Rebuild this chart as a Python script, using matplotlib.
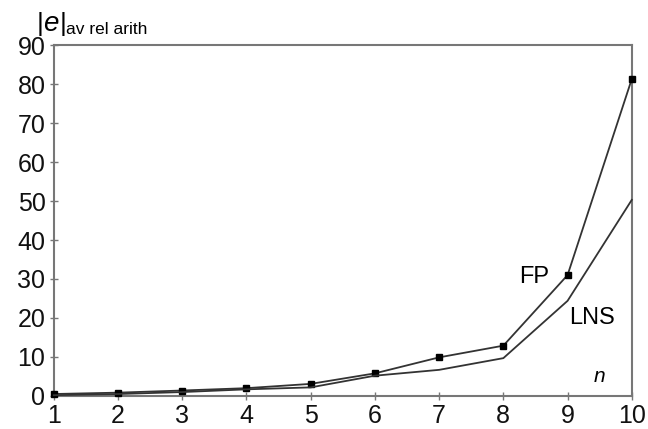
import matplotlib

matplotlib.use("Agg")
import matplotlib.pyplot as plt

# ── Data ──────────────────────────────────────────────────────────────────────
n = [1, 2, 3, 4, 5, 6, 7, 8, 9, 10]
fp = [0.5, 0.85, 1.4, 2.0, 3.1, 5.8, 9.9, 12.9, 31.0, 81.3]
lns = [0.2, 0.5, 1.0, 1.7, 2.2, 5.2, 6.7, 9.7, 24.4, 50.3]
yticks = [0, 10, 20, 30, 40, 50, 60, 70, 80, 90]

FONT = "Liberation Sans"
SPINE = "#777777"
LINE = "#333333"

fig = plt.figure(figsize=(6.48, 4.29), dpi=100, facecolor="white")
ax = fig.add_axes([0.083, 0.077, 0.892, 0.818])

ax.plot(n, fp, color=LINE, lw=1.3, marker="s", ms=5, mfc="black", mec="black",
        clip_on=False, zorder=3)
ax.plot(n, lns, color=LINE, lw=1.3, clip_on=False, zorder=3)

ax.set_xlim(1, 10)
ax.set_ylim(0, 90)
ax.set_xticks(n)
ax.set_yticks(yticks)

for s in ax.spines.values():
    s.set_color(SPINE)
    s.set_linewidth(1.5)

ax.tick_params(direction="inout", length=6, width=1, color=SPINE,
               labelsize=18, labelcolor="#111111", pad=3)
for lbl in ax.get_xticklabels() + ax.get_yticklabels():
    lbl.set_fontfamily(FONT)

# ── Labels ────────────────────────────────────────────────────────────────────
ax.text(8.48, 30.5, "FP", fontsize=17, family=FONT, ha="center", va="center")
ax.text(9.38, 20, "LNS", fontsize=17, family=FONT, ha="center", va="center")
ax.text(9.5, 4.9, "n", fontsize=15, family=FONT, style="italic",
        ha="center", va="center")

fig.text(0.057, 0.945, "|", fontsize=19, family=FONT, va="center", ha="left")
fig.text(0.066, 0.945, "e", fontsize=20, family=FONT, style="italic",
         va="center", ha="left")
fig.text(0.092, 0.945, "|", fontsize=19, family=FONT, va="center", ha="left")
fig.text(0.102, 0.932, "av rel arith", fontsize=12.5, family=FONT,
         va="center", ha="left")

fig.savefig("out.png", dpi=100, facecolor="white")
